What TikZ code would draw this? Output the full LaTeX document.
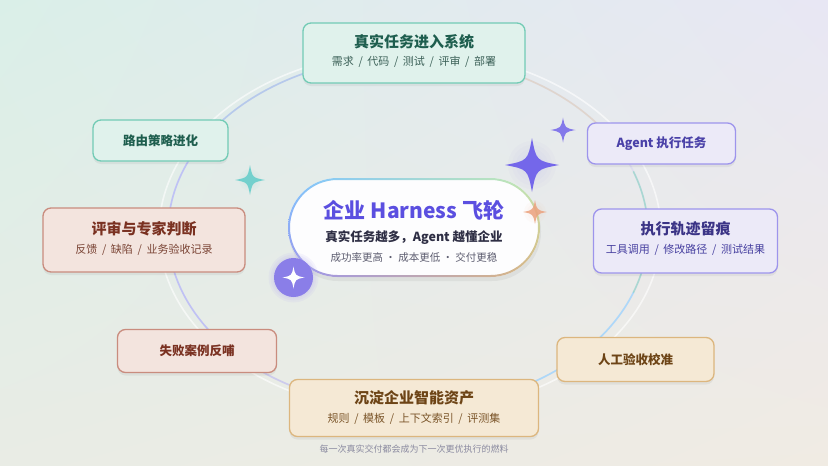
\documentclass[tikz,border=0pt]{standalone}
\usepackage{fontspec}
\setmainfont{Noto Sans CJK SC}
\usetikzlibrary{shadows,shadings}
\newcommand{\sepsl}{\hspace{0.42em}/\hspace{0.42em}}
\definecolor{bgTL}{HTML}{DAEFE8}
\definecolor{bgTR}{HTML}{E8E7F4}
\definecolor{bgBL}{HTML}{E9ECE5}
\definecolor{bgBR}{HTML}{F0EBE3}
\definecolor{tealF}{HTML}{E0F2EC}
\definecolor{tealD}{HTML}{72CBB5}
\definecolor{tealT}{HTML}{1E5E4E}
\definecolor{tealS}{HTML}{3C6158}
\definecolor{redF}{HTML}{F3E4DE}
\definecolor{redD}{HTML}{C98C7E}
\definecolor{redT}{HTML}{7A3121}
\definecolor{redS}{HTML}{7B4536}
\definecolor{orF}{HTML}{F5E9D5}
\definecolor{orD}{HTML}{DCB67E}
\definecolor{orT}{HTML}{6D4416}
\definecolor{orS}{HTML}{7A5428}
\definecolor{puF}{HTML}{ECEAF8}
\definecolor{puD}{HTML}{9D94EC}
\definecolor{puT}{HTML}{4A41A8}
\definecolor{puS}{HTML}{4740A0}
\definecolor{ctrT}{HTML}{5B4FE0}
\definecolor{ctrA}{HTML}{2E2E44}
\definecolor{ctrB}{HTML}{5D5D70}
\definecolor{capT}{HTML}{8A8AA0}
\definecolor{starP}{HTML}{7467EA}
\definecolor{starQ}{HTML}{8378EA}
\definecolor{starO}{HTML}{EBA27E}
\definecolor{starT}{HTML}{73D0CD}
\definecolor{circP}{HTML}{8A7EE8}
\tikzset{
  box/.style={draw, rounded corners=8pt, line width=1.3pt, inner sep=0pt,
    drop shadow={shadow xshift=0pt, shadow yshift=-3pt, opacity=0.05, fill=black}},
  tealbox/.style={box, fill=tealF, draw=tealD},
  redbox/.style={box, fill=redF, draw=redD},
  orbox/.style={box, fill=orF, draw=orD},
  pubox/.style={box, fill=puF, draw=puD},
  ttl/.style={font=\fontsize{15}{18}\selectfont\bfseries, inner sep=0pt},
  sml/.style={font=\fontsize{12.5}{15}\selectfont\bfseries, inner sep=0pt},
  sub/.style={font=\fontsize{11}{13}\selectfont, inner sep=0pt},
  spark/.pic={\fill (0,-1) .. controls (0.16,-0.16) .. (1,0) .. controls (0.16,0.16) .. (0,1) .. controls (-0.16,0.16) .. (-1,0) .. controls (-0.16,-0.16) .. (0,-1) -- cycle;},
  ring/.style={line width=1.6pt, line cap=round}
}
\begin{document}
\begin{tikzpicture}[x=1pt,y=-1pt]
\useasboundingbox (0,0) rectangle (828,466);
\shade[upper left=bgTL, upper right=bgTR, lower left=bgBL, lower right=bgBR] (0,0) rectangle (828,466);
% outer faint ring
\draw[white, opacity=0.6, line width=1.6pt] (410,232) ellipse [x radius=251, y radius=181];
% inner ring base
\draw[ring, color=puD!60!white, opacity=0.3] (408,232) ellipse [x radius=240, y radius=176];
% colored segments of inner ring
\draw[ring, color=tealD!60!blue!45!white, opacity=0.75] plot[domain=95:150, samples=40, variable=\t] ({408+240*cos(\t)},{232-176*sin(\t)});
\draw[ring, color=blue!35!white, opacity=0.5] plot[domain=150:220, samples=40, variable=\t] ({408+240*cos(\t)},{232-176*sin(\t)});
\draw[ring, color=puD!70!white, opacity=0.45] plot[domain=220:255, samples=30, variable=\t] ({408+240*cos(\t)},{232-176*sin(\t)});
\draw[ring, color=blue!40!cyan!40!white, opacity=0.7] plot[domain=285:340, samples=40, variable=\t] ({408+240*cos(\t)},{232-176*sin(\t)});
\draw[ring, color=tealD!80!white, opacity=0.65] plot[domain=-20:20, samples=30, variable=\t] ({408+240*cos(\t)},{232-176*sin(\t)});
\draw[ring, color=orD!70!white, opacity=0.45] plot[domain=25:75, samples=30, variable=\t] ({408+240*cos(\t)},{232-176*sin(\t)});

% boxes
\node[tealbox, minimum width=222pt, minimum height=60pt] (top) at (414,53) {};
\node[ttl, text=tealT] (topT) at (414,42) {真实任务进入系统};
\node[sub, text=tealS] (topS) at (414,62) {需求\sepsl 代码\sepsl 测试\sepsl 评审\sepsl 部署};

\node[tealbox, minimum width=135pt, minimum height=41pt] (route) at (160.5,140.5) {};
\node[sml, text=tealT] (routeT) at (route.center) {路由策略进化};

\node[redbox, minimum width=202pt, minimum height=64pt] (review) at (144,240) {};
\node[ttl, text=redT] (reviewT) at (144,229) {评审与专家判断};
\node[sub, text=redS] (reviewS) at (144,250) {反馈\sepsl 缺陷\sepsl 业务验收记录};

\node[redbox, minimum width=159pt, minimum height=43pt] (fail) at (197,351) {};
\node[sml, text=redT] (failT) at (fail.center) {失败案例反哺};

\node[orbox, minimum width=249pt, minimum height=57pt] (asset) at (414,408) {};
\node[ttl, text=orT] (assetT) at (414,398) {沉淀企业智能资产};
\node[sub, text=orS] (assetS) at (414,419) {规则\sepsl 模板\sepsl 上下文索引\sepsl 评测集};

\node[orbox, minimum width=157pt, minimum height=44pt] (human) at (635.5,359.5) {};
\node[sml, text=orT] (humanT) at (human.center) {人工验收校准};

\node[pubox, minimum width=148pt, minimum height=41pt] (agent) at (661.5,143.5) {};
\node[sml, text=puT] (agentT) at (agent.center) {Agent 执行任务};

\node[pubox, minimum width=184pt, minimum height=64pt] (trace) at (685.5,241) {};
\node[ttl, text=puT!80!black] (traceT) at (685.5,229) {执行轨迹留痕};
\node[sub, text=puS] (traceS) at (685.5,250) {工具调用\sepsl 修改路径\sepsl 测试结果};

% center stadium
\fill[black, opacity=0.05, rounded corners=49pt] (289,182) rectangle (541,281);
\fill[white!92!puF, rounded corners=49.5pt] (288,178) rectangle (540,277);
\shade[even odd rule, upper left=blue!45!cyan!50!white, upper right=tealD!70!yellow!60, lower left=puD, lower right=orD]
  [rounded corners=49.5pt] (288,178) rectangle (540,277)
  [rounded corners=47.5pt] (290,180) rectangle (538,275);
\node[inner sep=0pt, font=\fontsize{21}{24}\selectfont\bfseries, text=ctrT] (hub) at (414,210) {企业 Harness 飞轮};
\node[inner sep=0pt, font=\fontsize{12.5}{15}\selectfont\bfseries, text=ctrA] (hubA) at (414,238) {真实任务越多，Agent 越懂企业};
\node[inner sep=0pt, font=\fontsize{10.5}{13}\selectfont, text=ctrB] (hubB) at (414,257) {成功率更高 · 成本更低 · 交付更稳};

% sparkles with soft glow
\foreach \r in {8,12,16,20,24}{\fill[starP, opacity=0.025] (532,165) circle (\r);}
\pic[starP, scale=27] at (532,165) {spark};
\pic[starQ, scale=12.5] at (563,130) {spark};
\foreach \r in {5,8,11}{\fill[starO, opacity=0.04] (535,212) circle (\r);}
\pic[starO, opacity=0.85, scale=12] at (535,212) {spark};
\foreach \r in {5,8,11}{\fill[starT, opacity=0.04] (250,180) circle (\r);}
\pic[starT, scale=15] at (250,180) {spark};
\foreach \r in {21,23,25}{\fill[circP!60!white, opacity=0.12] (293.5,277.5) circle (\r);}
\node[circle, fill=circP, minimum size=39pt, inner sep=0pt] (badge) at (293.5,277.5) {};
\pic[white, scale=11] at (badge.center) {spark};

% caption
\node[inner sep=0pt, font=\fontsize{9}{11}\selectfont, text=capT] (cap) at (414,449) {每一次真实交付都会成为下一次更优执行的燃料};
\end{tikzpicture}
\end{document}
